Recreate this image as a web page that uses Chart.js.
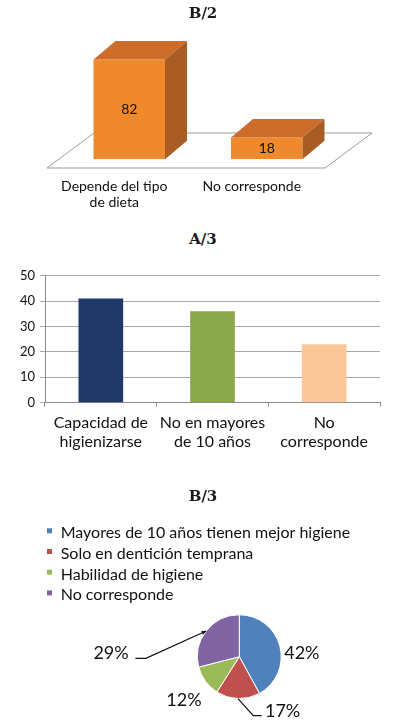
<!DOCTYPE html>
<html>
<head>
<meta charset="utf-8">
<script src="https://cdn.jsdelivr.net/npm/chart.js@4.4.1/dist/chart.umd.min.js"></script>
<style>
html,body{margin:0;padding:0;background:#fff;width:395px;height:723px;overflow:hidden;}
.t{position:absolute;left:0;width:406px;text-align:center;font:bold 15px "DejaVu Serif",serif;color:#1a1a1a;line-height:20px;}
canvas{position:absolute;left:0;}
</style>
</head>
<body>
<canvas id="c1" width="395" height="220" style="top:0px"></canvas>
<canvas id="c2" width="395" height="205" style="top:250px"></canvas>
<canvas id="c3" width="395" height="253" style="top:470px"></canvas>
<div class="t" style="top:3px">B/2</div>
<div class="t" style="top:229px">A/3</div>
<div class="t" style="top:486px">B/3</div>
<script>
// ---------- DATA ----------
// B/2
const b2Categories = [['Depende del tipo', 'de dieta'], 'No corresponde'];
const b2Values = [82, 18];
const b2AxisMax = 100;

// A/3
const a3Categories = [['Capacidad de', 'higienizarse'], ['No en mayores', 'de 10 años'], ['No', 'corresponde']];
const a3Values = [41, 36, 23];
const a3TickMin = 0;
const a3TickMax = 50;
const a3TickStep = 10;

// B/3
const b3Labels = ['Mayores de 10 años tienen mejor higiene', 'Solo en dentición temprana', 'Habilidad de higiene', 'No corresponde'];
const b3Values = [42, 17, 12, 29];

// ---------- STYLE ----------
const FONT = 'Lato, "Liberation Sans", sans-serif';
const TEXT = '#111';
const b2Front = '#F0892B', b2Top = '#CC6D2B', b2Side = '#A95C24';
const a3Colors = ['#1F3868', '#8BA74C', '#FAC898'];
const b3Colors = ['#4F81BD', '#C0504D', '#9BBB59', '#8064A2'];

// 3D look for the B/2 bars (floor + top & side faces + value labels)
const bar3d = {
  id: 'bar3d',
  beforeDatasetsDraw(chart) {
    const {ctx, chartArea: a} = chart;
    const fy = a.bottom + 8.7, by = fy - 35, fl = a.left - 13.5, fr = a.right - 10.5, d = 47;
    ctx.save();
    ctx.beginPath();
    ctx.moveTo(fl, fy); ctx.lineTo(fr, fy); ctx.lineTo(fr + d, by); ctx.lineTo(fl + d, by); ctx.closePath();
    ctx.fillStyle = '#fff'; ctx.fill();
    ctx.strokeStyle = '#9a9a9a'; ctx.lineWidth = 1; ctx.stroke();
    ctx.restore();
  },
  afterDatasetsDraw(chart) {
    const {ctx} = chart;
    const meta = chart.getDatasetMeta(0);
    const dx = 22, dy = -18.5;
    ctx.save();
    meta.data.forEach((bar, i) => {
      const {x, y, base, width} = bar.getProps(['x', 'y', 'base', 'width'], true);
      const l = x - width / 2, r = x + width / 2;
      ctx.fillStyle = b2Top;
      ctx.beginPath(); ctx.moveTo(l, y); ctx.lineTo(r, y); ctx.lineTo(r + dx, y + dy); ctx.lineTo(l + dx, y + dy); ctx.closePath(); ctx.fill();
      ctx.fillStyle = b2Side;
      ctx.beginPath(); ctx.moveTo(r, y); ctx.lineTo(r + dx, y + dy); ctx.lineTo(r + dx, base + dy); ctx.lineTo(r, base); ctx.closePath(); ctx.fill();
      ctx.fillStyle = TEXT; ctx.font = '14px ' + FONT; ctx.textAlign = 'center'; ctx.textBaseline = 'middle';
      ctx.fillText(String(chart.data.datasets[0].data[i]), x, (y + base) / 2);
    });
    ctx.restore();
  }
};

new Chart(document.getElementById('c1'), {
  type: 'bar',
  data: {
    labels: b2Categories,
    datasets: [{data: b2Values, backgroundColor: b2Front, barPercentage: 0.52, categoryPercentage: 1}]
  },
  options: {
    responsive: false, animation: false,
    layout: {padding: {left: 60.5, right: 59.5, top: 37.5, bottom: 0}},
    plugins: {legend: {display: false}, tooltip: {enabled: false}},
    scales: {
      x: {
        grid: {display: false, drawTicks: false, tickLength: 0},
        border: {display: false},
        ticks: {font: {family: FONT, size: 14}, color: TEXT, padding: 18.3, labelOffset: -15, maxRotation: 0, autoSkip: false},
        afterFit: s => { s.height = 60.7; }
      },
      y: {display: false, min: 0, max: b2AxisMax}
    }
  },
  plugins: [bar3d]
});

new Chart(document.getElementById('c2'), {
  type: 'bar',
  data: {
    labels: a3Categories,
    datasets: [{data: a3Values, backgroundColor: a3Colors, barPercentage: 0.40, categoryPercentage: 1}]
  },
  options: {
    responsive: false, animation: false,
    layout: {padding: {left: 0, right: 15, top: 25.7, bottom: 0}},
    plugins: {legend: {display: false}, tooltip: {enabled: false}},
    scales: {
      x: {
        grid: {drawOnChartArea: false, tickLength: 4, color: '#8C8C8C', offset: true},
        border: {color: '#8C8C8C'},
        ticks: {font: {family: FONT, size: 16, lineHeight: 1.19}, color: TEXT, padding: 6.5, maxRotation: 0, autoSkip: false},
        afterFit: s => { s.height = 52.3; }
      },
      y: {
        min: a3TickMin, max: a3TickMax,
        grid: {color: '#A8A8A8', tickLength: 5},
        border: {color: '#8C8C8C'},
        ticks: {stepSize: a3TickStep, font: {family: FONT, size: 13}, color: TEXT, padding: 5},
        afterFit: s => { s.width = 45; }
      }
    }
  }
});

// Pie: legend drawn as text rows, percentage labels with leader lines
const LEGEND_TOP = 63, LEGEND_STEP = 20.7;
const pieLegend = {
  id: 'pieLegend',
  afterDraw(chart) {
    const {ctx} = chart;
    const colors = chart.data.datasets[0].backgroundColor;
    ctx.save();
    ctx.font = '16px ' + FONT; ctx.textBaseline = 'middle'; ctx.textAlign = 'left';
    chart.data.labels.forEach((lab, i) => {
      const cy = LEGEND_TOP + i * LEGEND_STEP;
      ctx.fillStyle = colors[i]; ctx.fillRect(47, cy - 4.7, 5, 5);
      ctx.fillStyle = TEXT; ctx.fillText(lab, 60.7, cy);
    });
    ctx.restore();
  }
};
const PLACE = [
  {dx: 22, dy: 7, align: 'center'},
  {dx: 27, dy: 12.6, align: 'left', leader: [[15.3, 17], [23.7, 17]]},
  {dx: -21.5, dy: 18.4, align: 'center'},
  {dx: -77.5, dy: 22.3, align: 'right', leader: [[-60.3, 27.3], [-70.8, 27.3]], arrow: true}
];
const pieLabels = {
  id: 'pieLabels',
  afterDatasetsDraw(chart) {
    const {ctx} = chart;
    const meta = chart.getDatasetMeta(0);
    const data = chart.data.datasets[0].data;
    const total = data.reduce((s, v) => s + v, 0);
    ctx.save();
    ctx.font = '18px ' + FONT; ctx.fillStyle = TEXT; ctx.strokeStyle = '#111'; ctx.lineWidth = 1.2;
    ctx.textBaseline = 'middle';
    meta.data.forEach((arc, i) => {
      const {x, y, startAngle, endAngle, outerRadius} = arc.getProps(['x', 'y', 'startAngle', 'endAngle', 'outerRadius'], true);
      const mid = (startAngle + endAngle) / 2;
      const ax = x + Math.cos(mid) * outerRadius, ay = y + Math.sin(mid) * outerRadius;
      const p = PLACE[i];
      if (p.leader) {
        ctx.beginPath(); ctx.moveTo(ax, ay);
        p.leader.forEach(([lx, ly]) => ctx.lineTo(ax + lx, ay + ly));
        ctx.stroke();
        if (p.arrow) {
          const [lx, ly] = p.leader[0];
          const ang = Math.atan2(-ly, -lx);
          ctx.beginPath();
          ctx.moveTo(ax, ay);
          ctx.lineTo(ax - Math.cos(ang - 0.45) * 5, ay - Math.sin(ang - 0.45) * 5);
          ctx.lineTo(ax - Math.cos(ang + 0.45) * 5, ay - Math.sin(ang + 0.45) * 5);
          ctx.closePath(); ctx.fillStyle = '#111'; ctx.fill(); ctx.fillStyle = TEXT;
        }
      }
      ctx.textAlign = p.align;
      ctx.fillText(Math.round(data[i] / total * 100) + '%', ax + p.dx, ay + p.dy);
    });
    ctx.restore();
  }
};

new Chart(document.getElementById('c3'), {
  type: 'pie',
  data: {
    labels: b3Labels,
    datasets: [{data: b3Values, backgroundColor: b3Colors, borderColor: '#fff', borderWidth: 1}]
  },
  options: {
    responsive: false, animation: false,
    layout: {padding: {left: 196.9, right: 113.3, top: 144.3, bottom: 23.9}},
    plugins: {legend: {display: false}, tooltip: {enabled: false}}
  },
  plugins: [pieLabels, pieLegend]
});
</script>
</body>
</html>
